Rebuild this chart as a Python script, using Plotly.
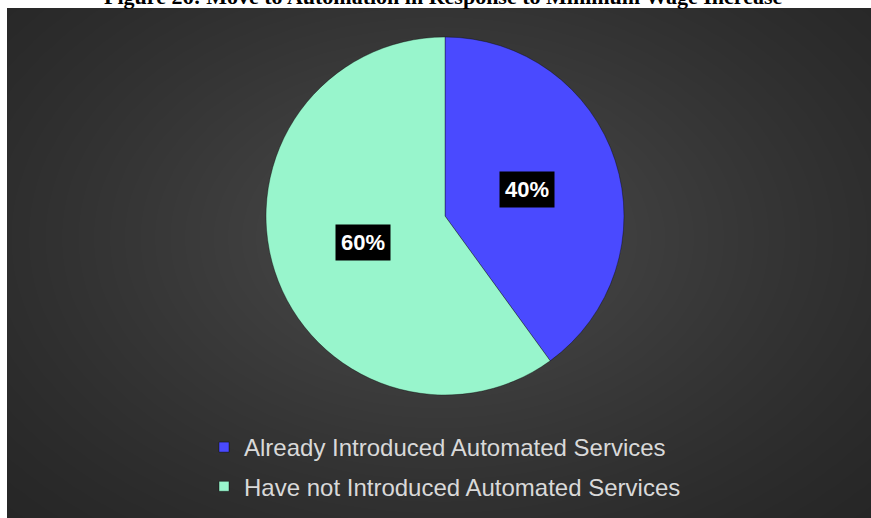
import numpy as np
import plotly.graph_objects as go

# Survey responses
categories = ["Already Introduced Automated Services", "Have not Introduced Automated Services"]
shares = [40, 60]
slice_colors = ["#4a4aff", "#98f5cc"]
title_text = "Figure 26: Move to Automation in Response to Minimum Wage Increase"

W, H = 871, 518
panel_left, panel_top = 7, 8

fig = go.Figure()

# Dark backdrop with a soft radial glow, drawn as a smoothed heatmap
gx = np.linspace(0, 1, 120)
gy = np.linspace(0, 1, 80)
GX, GY = np.meshgrid(gx, gy)
dist = np.sqrt(((GX - 0.5) / 0.75) ** 2 + ((GY - 0.55) / 0.85) ** 2)
glow = np.clip(1 - dist, 0, 1) ** 1.3
fig.add_trace(go.Heatmap(
    x=gx, y=gy, z=glow, zsmooth="best",
    colorscale=[[0, "#262626"], [1, "#4c4c4c"]],
    showscale=False, hoverinfo="skip", xaxis="x", yaxis="y",
))

# Pie placement (paper coordinates)
pie_dom_x = [266 / W, 624 / W]
pie_dom_y = [1 - 395 / H, 1 - 37 / H]

fig.add_trace(go.Pie(
    labels=categories, values=shares, sort=False, direction="clockwise", rotation=0,
    marker=dict(colors=slice_colors, line=dict(color="rgba(0,0,0,0.35)", width=1)),
    textinfo="none", hoverinfo="label+percent",
    domain=dict(x=pie_dom_x, y=pie_dom_y),
    showlegend=False,
))

# Legend entries, one group per category so the rows can be spaced apart
for name, color in zip(categories, slice_colors):
    fig.add_trace(go.Scatter(
        x=[None], y=[None], mode="markers", name=name, legendgroup=name,
        marker=dict(symbol="square", size=10, color=color,
                    line=dict(color="rgba(0,0,0,0.4)", width=1)),
        xaxis="x", yaxis="y",
    ))

# Percentage labels on black boxes, placed at each slice's mid-angle
cx = sum(pie_dom_x) / 2
cy = sum(pie_dom_y) / 2
r_px = (pie_dom_x[1] - pie_dom_x[0]) * W / 2
total = sum(shares)
cum = 0
annotations = []
for v in shares:
    mid = (cum + v / 2) / total * 2 * np.pi
    cum += v
    rr = 0.48 * r_px
    annotations.append(dict(
        x=cx + rr * np.sin(mid) / W, y=cy + rr * np.cos(mid) / H,
        xref="paper", yref="paper", showarrow=False,
        text=f"<b>{v}%</b>", bgcolor="#000000", borderpad=5,
        font=dict(family="Liberation Sans, Arial", size=22, color="#ffffff"),
    ))

annotations.append(dict(
    x=443 / W, y=1 - 11 / H, xref="paper", yref="paper", showarrow=False,
    xanchor="center", yanchor="bottom",
    text=f"<b>{title_text}</b>",
    font=dict(family="Liberation Serif, Times New Roman", size=22, color="#000000"),
))

fig.update_layout(
    width=W, height=H,
    margin=dict(l=0, r=0, t=0, b=0),
    paper_bgcolor="#ffffff",
    plot_bgcolor="#ffffff",
    xaxis=dict(domain=[panel_left / W, 1], range=[0, 1], visible=False, fixedrange=True),
    yaxis=dict(domain=[0, 1 - panel_top / H], range=[0, 1], visible=False, fixedrange=True),
    legend=dict(
        x=204 / W, xanchor="left", y=1 - 425 / H, yanchor="top",
        orientation="v", bgcolor="rgba(0,0,0,0)", tracegroupgap=5,
        font=dict(family="Liberation Sans, Arial", size=24, color="#d9d9d9"),
        itemwidth=30,
    ),
    annotations=annotations,
)

fig.write_html("out.html")
